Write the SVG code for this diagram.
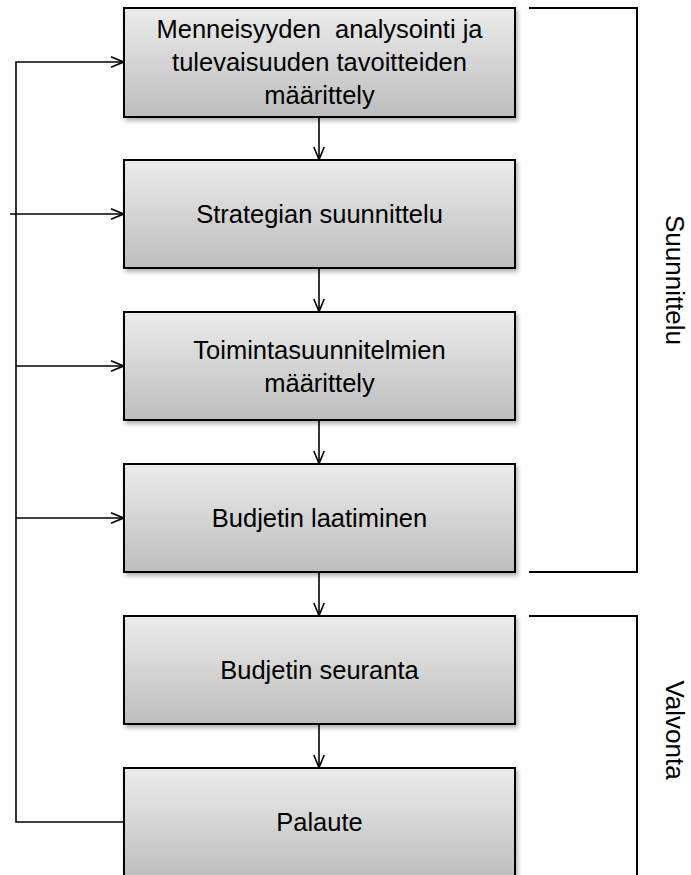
<svg xmlns="http://www.w3.org/2000/svg" width="691" height="875" viewBox="0 0 691 875">
  <style>
    .box { fill: url(#boxFill); stroke: #000; stroke-width: 2; filter: url(#shadow); }
    .lbl { font-family: "Liberation Sans", Arial, sans-serif; font-size: 25.5px; fill: #000; text-anchor: middle; }
    .side { font-family: "Liberation Sans", Arial, sans-serif; font-size: 26px; fill: #000; text-anchor: middle; }
    .conn { fill: none; stroke: #000; stroke-width: 1.6; }
    .arrow { marker-end: url(#chev); }
    .bracket { fill: none; stroke: #000; stroke-width: 2; }
  </style>
  <defs>
    <linearGradient id="boxFill" x1="0" y1="0" x2="0" y2="1">
      <stop offset="0" stop-color="#ececec"/>
      <stop offset="1" stop-color="#bdbdbd"/>
    </linearGradient>
    <filter id="shadow" x="-5%" y="-5%" width="112%" height="120%">
      <feDropShadow dx="2" dy="3" stdDeviation="2" flood-color="#000" flood-opacity="0.3"/>
    </filter>
    <marker id="chev" viewBox="0 0 14 12" refX="14" refY="6" markerWidth="14" markerHeight="12" markerUnits="userSpaceOnUse" orient="auto">
      <path d="M1,0.8 L13.5,6 L1,11.2" fill="none" stroke="#000" stroke-width="1.6"/>
    </marker>
  </defs>

  <!-- connectors -->
  <g id="connectors">
    <!-- feedback loop from Palaute back to the planning steps -->
    <path class="conn arrow" d="M124,822 H16 V62 H124"/>
    <path class="conn arrow" d="M10,214 H124"/>
    <path class="conn arrow" d="M16,366 H124"/>
    <path class="conn arrow" d="M16,518 H124"/>
    <!-- main flow -->
    <path class="conn arrow" d="M319,117 V160"/>
    <path class="conn arrow" d="M319,269 V312"/>
    <path class="conn arrow" d="M319,421 V464"/>
    <path class="conn arrow" d="M319,573 V616"/>
    <path class="conn arrow" d="M319,725 V768"/>
  </g>

  <g id="n1">
    <rect class="box" x="124" y="8" width="391" height="109"/>
    <text class="lbl" x="319.5" y="38" xml:space="preserve">Menneisyyden  analysointi ja</text>
    <text class="lbl" x="319.5" y="71">tulevaisuuden tavoitteiden</text>
    <text class="lbl" x="319.5" y="104">määrittely</text>
  </g>
  <g id="n2">
    <rect class="box" x="124" y="160" width="391" height="108"/>
    <text class="lbl" x="319.5" y="223">Strategian suunnittelu</text>
  </g>
  <g id="n3">
    <rect class="box" x="124" y="312" width="391" height="108"/>
    <text class="lbl" x="319.5" y="359">Toimintasuunnitelmien</text>
    <text class="lbl" x="319.5" y="392">määrittely</text>
  </g>
  <g id="n4">
    <rect class="box" x="124" y="464" width="391" height="108"/>
    <text class="lbl" x="319.5" y="527">Budjetin laatiminen</text>
  </g>
  <g id="n5">
    <rect class="box" x="124" y="616" width="391" height="108"/>
    <text class="lbl" x="319.5" y="679">Budjetin seuranta</text>
  </g>
  <g id="n6">
    <rect class="box" x="124" y="768" width="391" height="112"/>
    <text class="lbl" x="319.5" y="831">Palaute</text>
  </g>

  <!-- phase brackets -->
  <g id="phase-planning">
    <path class="bracket" d="M529,8 H637 V572 H529"/>
    <text class="side" transform="translate(666,280) rotate(90)">Suunnittelu</text>
  </g>
  <g id="phase-control">
    <path class="bracket" d="M529,616 H637 V876"/>
    <text class="side" transform="translate(666,730) rotate(90)">Valvonta</text>
  </g>
</svg>
